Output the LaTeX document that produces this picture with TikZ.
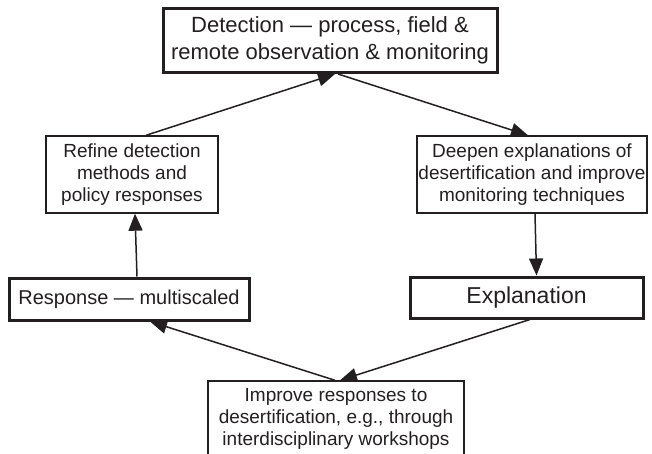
\documentclass[tikz,border=0pt]{standalone}
\usepackage{fontspec}
\setmainfont{Liberation Sans}
\usetikzlibrary{arrows.meta}
\definecolor{ink}{HTML}{231F20}
\begin{document}
\begin{tikzpicture}[x=1pt,y=-1pt,
  box/.style={draw=ink,text=ink,rectangle,align=center,inner sep=0pt,line width=1.4pt},
  heavybox/.style={box,line width=3pt},
  mid/.style={font=\fontsize{19}{22}\selectfont},
  link/.style={draw=ink,line width=1.5pt,-{Triangle[length=17pt,width=14pt]}}]
\useasboundingbox (0,0) rectangle (652,454);

% the four stages of the cycle and the steps between them
\node[heavybox,minimum width=334pt,minimum height=64pt,font=\fontsize{22}{26.5}\selectfont]
  (det) at (330,40.5) {Detection — process, field \&\\remote observation \& monitoring};
\node[box,mid,minimum width=172pt,minimum height=77pt]
  (refine) at (132,174.5) {Refine detection\\methods and\\policy responses};
\node[box,mid,minimum width=230pt,minimum height=77pt]
  (deepen) at (532,174.5) {Deepen explanations of\\desertification and improve\\monitoring techniques};
\node[heavybox,minimum width=240pt,minimum height=42pt,font=\fontsize{20}{24}\selectfont]
  (resp) at (129,299) {Response — multiscaled};
\node[heavybox,minimum width=233pt,minimum height=41pt,font=\fontsize{23}{27}\selectfont]
  (expl) at (526.5,297.5) {Explanation};
\node[box,mid,minimum width=256pt,minimum height=76pt]
  (improve) at (336,419) {Improve responses to\\desertification, e.g., through\\interdisciplinary workshops};

% connectors
\draw[link] ([xshift=14pt]refine.north) -- ([xshift=5pt]det.south);
\draw[link] ([xshift=8pt]det.south) -- ([xshift=-4pt]deepen.north);
\draw[link] ([xshift=3pt]deepen.south) -- ([xshift=10pt]expl.north);
\draw[link] ([xshift=3.5pt]expl.south) -- ([xshift=4pt]improve.north);
\draw[link] ([xshift=-1pt]improve.north) -- ([xshift=21pt]resp.south);
\draw[link] ([xshift=8pt]resp.north) -- ([xshift=3pt]refine.south);
\end{tikzpicture}
\end{document}
